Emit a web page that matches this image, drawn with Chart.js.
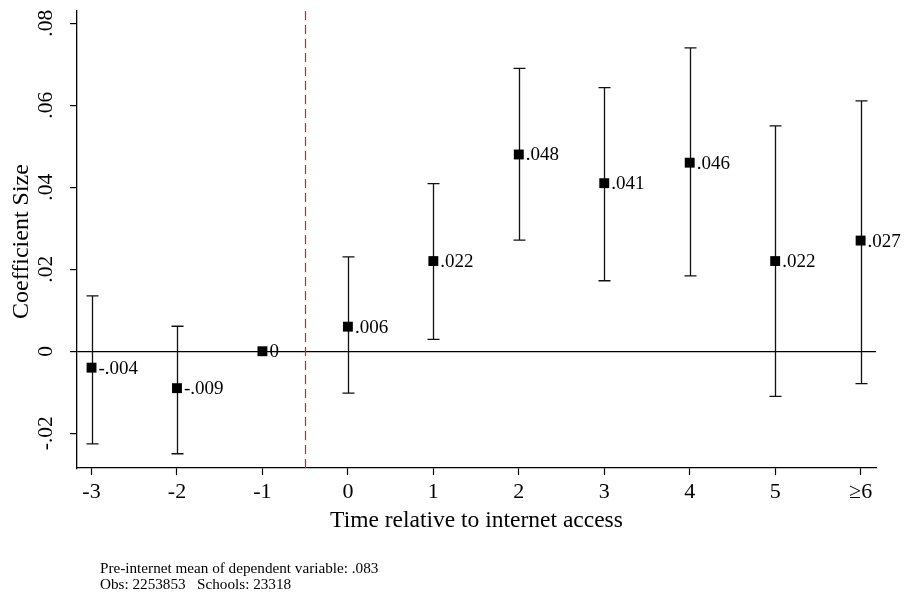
<!DOCTYPE html>
<html lang="en">
  <head>
    <meta charset="UTF-8" />
    <title>Event study: coefficient size</title>
    <script src="https://cdn.jsdelivr.net/npm/chart.js@4.4.1/dist/chart.umd.min.js"></script>
    <style>
      body {
        margin: 0;
        background: #fff;
      }
      #wrap {
        width: 904px;
        height: 596px;
        position: relative;
      }
    </style>
  </head>
  <body>
    <div id="wrap">
      <canvas id="myChart"></canvas>
    </div>

    <script>
      // data
      const periods = [-3, -2, -1, 0, 1, 2, 3, 4, 5, 6];
      const periodLabels = ["-3", "-2", "-1", "0", "1", "2", "3", "4", "5", "≥6"];
      const coef = [-0.004, -0.009, 0, 0.006, 0.022, 0.048, 0.041, 0.046, 0.022, 0.027];
      const coefLabels = ["-.004", "-.009", "0", ".006", ".022", ".048", ".041", ".046", ".022", ".027"];
      const ciLow = [-0.0226, -0.025, null, -0.0102, 0.0029, 0.0271, 0.0172, 0.0184, -0.011, -0.0079];
      const ciHigh = [0.0135, 0.0061, null, 0.023, 0.0409, 0.069, 0.0643, 0.074, 0.055, 0.0611];
      const yTicks = [-0.02, 0, 0.02, 0.04, 0.06, 0.08];
      const yTickLabels = ["-.02", "0", ".02", ".04", ".06", ".08"];
      const treatLine = -0.5;
      const footer = [
        "Pre-internet mean of dependent variable: .083",
        "Obs: 2253853   Schools: 23318",
      ];

      const FONT = "'Liberation Serif', 'Times New Roman', serif";

      const overlay = {
        id: "overlay",
        beforeDatasetsDraw(chart) {
          const ctx = chart.ctx;
          const xs = chart.scales.x;
          const ys = chart.scales.y;
          const area = chart.chartArea;
          ctx.save();

          // dashed line just before access
          const xd = Math.round(xs.getPixelForValue(treatLine)) + 0.5;
          ctx.strokeStyle = "#e01b24";
          ctx.lineWidth = 1.2;
          ctx.setLineDash([9, 5]);
          ctx.beginPath();
          ctx.moveTo(xd, area.top);
          ctx.lineTo(xd, area.bottom);
          ctx.stroke();
          ctx.setLineDash([]);

          // confidence intervals
          ctx.strokeStyle = "#111";
          ctx.lineWidth = 1.3;
          periods.forEach(function (p, i) {
            if (ciLow[i] === null) return;
            const x = Math.round(xs.getPixelForValue(p)) + 0.5;
            const y1 = ys.getPixelForValue(ciLow[i]);
            const y2 = ys.getPixelForValue(ciHigh[i]);
            ctx.beginPath();
            ctx.moveTo(x, y1);
            ctx.lineTo(x, y2);
            ctx.moveTo(x - 6, y1);
            ctx.lineTo(x + 6, y1);
            ctx.moveTo(x - 6, y2);
            ctx.lineTo(x + 6, y2);
            ctx.stroke();
          });
          ctx.restore();
        },
        afterDatasetsDraw(chart) {
          const ctx = chart.ctx;
          const meta = chart.getDatasetMeta(0);
          ctx.save();
          ctx.fillStyle = "#000";
          ctx.font = "19px " + FONT;
          ctx.textAlign = "left";
          ctx.textBaseline = "middle";
          meta.data.forEach(function (pt, i) {
            ctx.fillText(coefLabels[i], pt.x + 7, pt.y + 1);
          });
          ctx.restore();
        },
        afterDraw(chart) {
          const ctx = chart.ctx;
          const ys = chart.scales.y;
          const area = chart.chartArea;
          ctx.save();
          ctx.fillStyle = "#000";
          ctx.textAlign = "center";
          ctx.textBaseline = "middle";

          // rotated y tick labels
          ctx.font = "21.5px " + FONT;
          yTicks.forEach(function (v, i) {
            const y = ys.getPixelForValue(v);
            ctx.save();
            ctx.translate(46, y);
            ctx.rotate(-Math.PI / 2);
            ctx.fillText(yTickLabels[i], 0, 0);
            ctx.restore();
          });

          // y title
          ctx.font = "24px " + FONT;
          ctx.save();
          ctx.translate(22, (area.top + area.bottom) / 2 + 2);
          ctx.rotate(-Math.PI / 2);
          ctx.fillText("Coefficient Size", 0, 0);
          ctx.restore();

          // footnote
          ctx.font = "15.2px " + FONT;
          ctx.textAlign = "left";
          footer.forEach(function (line, i) {
            ctx.fillText(line, 100, 569 + i * 16);
          });
          ctx.restore();
        },
      };

      const ctx = document.getElementById("myChart").getContext("2d");
      new Chart(ctx, {
        type: "scatter",
        data: {
          datasets: [
            {
              label: "Coefficient",
              data: periods.map((p, i) => ({ x: p, y: coef[i] })),
              pointStyle: "rect",
              pointRadius: 7,
              pointHoverRadius: 7,
              backgroundColor: "#000",
              borderColor: "#000",
              borderWidth: 0,
              showLine: false,
            },
          ],
        },
        options: {
          responsive: true,
          maintainAspectRatio: false,
          animation: false,
          layout: {
            padding: { left: 70, right: 28, top: 11, bottom: 63 },
          },
          plugins: {
            legend: { display: false },
            tooltip: { enabled: false },
          },
          scales: {
            x: {
              type: "linear",
              min: -3.17,
              max: 6.18,
              afterBuildTicks: function (scale) {
                scale.ticks = periods.map((v) => ({ value: v }));
              },
              ticks: {
                color: "#000",
                font: { family: FONT, size: 22 },
                padding: 4,
                maxRotation: 0,
                autoSkip: false,
                callback: function (value) {
                  const i = periods.indexOf(value);
                  return i >= 0 ? periodLabels[i] : "";
                },
              },
              grid: {
                drawOnChartArea: false,
                drawTicks: true,
                tickLength: 7,
                tickColor: "#000",
                tickWidth: 1.2,
              },
              border: { display: true, color: "#000", width: 1.3 },
              title: {
                display: true,
                text: "Time relative to internet access",
                color: "#000",
                font: { family: FONT, size: 23.5, lineHeight: 1 },
                padding: { top: 0, bottom: 0 },
              },
            },
            y: {
              min: -0.0285,
              max: 0.083,
              afterBuildTicks: function (scale) {
                scale.ticks = yTicks.map((v) => ({ value: v }));
              },
              ticks: { display: false },
              grid: {
                drawOnChartArea: true,
                color: function (c) {
                  return c.tick && c.tick.value === 0 ? "#000" : "rgba(0,0,0,0)";
                },
                lineWidth: 1.2,
                tickLength: 7,
                tickColor: "#000",
                tickWidth: 1.2,
              },
              border: { display: true, color: "#000", width: 1.3 },
            },
          },
        },
        plugins: [overlay],
      });
    </script>
  </body>
</html>
